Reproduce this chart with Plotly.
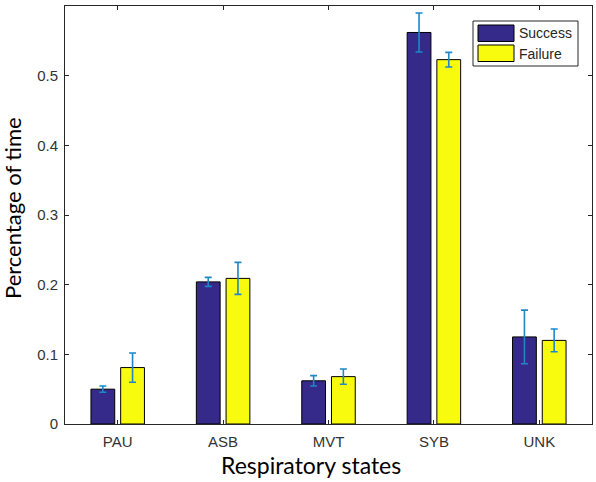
import plotly.graph_objects as go

categories = ["PAU", "ASB", "MVT", "SYB", "UNK"]
series_names = ["Success", "Failure"]
success = [0.050, 0.204, 0.062, 0.562, 0.125]
success_err = [0.0045, 0.0065, 0.0075, 0.028, 0.0385]
failure = [0.081, 0.209, 0.068, 0.523, 0.120]
failure_err = [0.021, 0.023, 0.011, 0.0105, 0.0163]
y_ticks = [0, 0.1, 0.2, 0.3, 0.4, 0.5, 0.6]
y_tick_labels = ["0", "0.1", "0.2", "0.3", "0.4", "0.5", "0.6"]

colors = ["#35298A", "#F9FB0E"]
err_color = "#1f86c8"
tick_color = "#333333"

W, H = 596, 482
L, R, T, B = 65, 4, 6, 58
PW, PH = W - L - R, H - T - B


def px(x):
    return (x - L) / PW


def py(y):
    return (H - B - y) / PH


fig = go.Figure()
for name, vals, errs, col in [(series_names[0], success, success_err, colors[0]),
                              (series_names[1], failure, failure_err, colors[1])]:
    fig.add_trace(go.Bar(
        x=categories, y=vals, name=name,
        marker=dict(color=col, line=dict(color="black", width=1)),
        error_y=dict(type="data", array=errs, color=err_color, thickness=1.6, width=3.5),
        showlegend=False,
    ))

shapes = []
annotations = []
# custom legend (box + large swatches like MATLAB)
shapes.append(dict(type="rect", xref="paper", yref="paper",
                   x0=px(473), x1=px(578), y0=py(66), y1=py(21),
                   line=dict(color="#262626", width=1), fillcolor="white"))
for i, (name, col) in enumerate(zip(series_names, colors)):
    top = 25 + i * 20
    shapes.append(dict(type="rect", xref="paper", yref="paper",
                       x0=px(478), x1=px(514), y0=py(top + 16.5), y1=py(top),
                       line=dict(color="black", width=1), fillcolor=col))
    annotations.append(dict(text=name, xref="paper", yref="paper",
                            x=px(517), y=py(top + 8.5), xanchor="left", yanchor="middle",
                            showarrow=False,
                            font=dict(family="Liberation Sans, Arial", size=14, color="#262626")))
# axis titles
annotations.append(dict(text="Percentage of time", xref="paper", yref="paper",
                        x=px(12), y=py(208), textangle=-90, xanchor="center", yanchor="middle",
                        showarrow=False, font=dict(family="Lato", size=22, color="black")))
annotations.append(dict(text="Respiratory states", xref="paper", yref="paper",
                        x=px(311), y=py(465), xanchor="center", yanchor="middle",
                        showarrow=False, font=dict(family="Lato", size=23, color="black")))

fig.update_layout(
    width=W, height=H,
    margin=dict(l=L, r=R, t=T, b=B, autoexpand=False),
    paper_bgcolor="white", plot_bgcolor="white",
    barmode="group", bargap=0.436, bargroupgap=0.2,
    showlegend=False,
    shapes=shapes, annotations=annotations,
    font=dict(family="Liberation Sans, Arial", size=15, color=tick_color),
)
fig.update_xaxes(
    range=[-0.5, 4.5], automargin=False,
    showline=True, linecolor="#262626", linewidth=1, mirror="ticks",
    ticks="inside", ticklen=4, tickcolor="#262626",
    tickfont=dict(family="Liberation Sans, Arial", size=15, color=tick_color),
    ticklabelstandoff=4,
    showgrid=False, zeroline=False,
)
fig.update_yaxes(
    range=[0, 0.6], automargin=False,
    tickvals=y_ticks, ticktext=y_tick_labels,
    showline=True, linecolor="#262626", linewidth=1, mirror="ticks",
    ticks="inside", ticklen=4, tickcolor="#262626",
    tickfont=dict(family="Liberation Sans, Arial", size=15, color=tick_color),
    ticklabelstandoff=3,
    showgrid=False, zeroline=False,
)

fig.write_html("out.html",
               config={"displayModeBar": False},
               post_script="document.body.style.margin='0';document.body.style.padding='0';")
